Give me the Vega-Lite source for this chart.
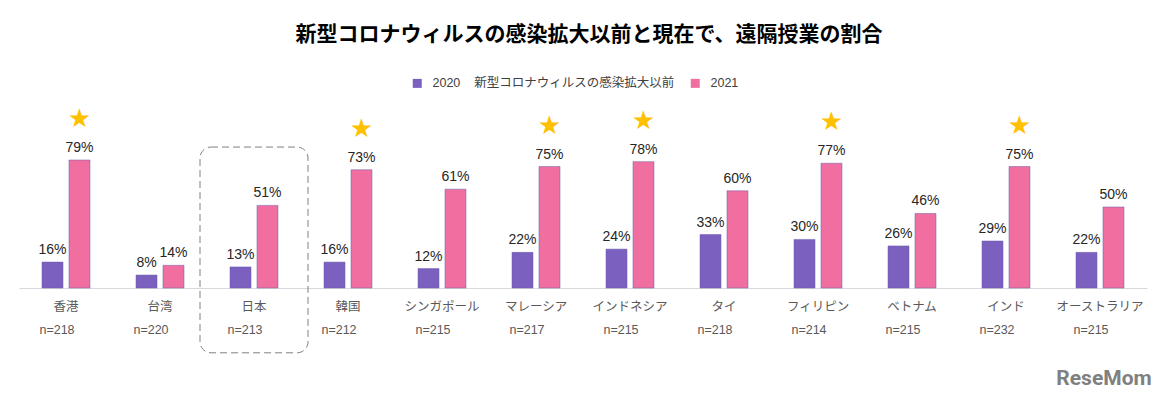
{
  "$schema": "https://vega.github.io/schema/vega-lite/v6.json",
  "width": 1128,
  "height": 162,
  "autosize": {"type": "none"},
  "padding": {"left": 19, "right": 18, "top": 126, "bottom": 111},
  "background": "white",
  "title": {
    "text": "新型コロナウィルスの感染拡大以前と現在で、遠隔授業の割合",
    "font": "Noto Sans CJK JP",
    "fontSize": 21,
    "fontWeight": "bold",
    "color": "#000000",
    "anchor": "middle",
    "frame": "group",
    "offset": 32,
    "dx": 6
  },
  "config": {
    "view": {"stroke": null},
    "font": "Liberation Sans, Noto Sans CJK JP",
    "axis": {
      "grid": false,
      "ticks": false,
      "tickSize": 0,
      "domainColor": "#d9d9d9",
      "domainWidth": 1,
      "labelPadding": 12,
      "labelFont": "Noto Sans CJK JP",
      "labelFontSize": 12.5,
      "labelColor": "#595959",
      "labelAngle": 0
    }
  },
  "datasets": {
    "bars": [
      {"country": "香港", "year": "2020", "value": 16, "star": false},
      {"country": "香港", "year": "2021", "value": 79, "star": true},
      {"country": "台湾", "year": "2020", "value": 8, "star": false},
      {"country": "台湾", "year": "2021", "value": 14, "star": false},
      {"country": "日本", "year": "2020", "value": 13, "star": false},
      {"country": "日本", "year": "2021", "value": 51, "star": false},
      {"country": "韓国", "year": "2020", "value": 16, "star": false},
      {"country": "韓国", "year": "2021", "value": 73, "star": true},
      {"country": "シンガポール", "year": "2020", "value": 12, "star": false},
      {"country": "シンガポール", "year": "2021", "value": 61, "star": false},
      {"country": "マレーシア", "year": "2020", "value": 22, "star": false},
      {"country": "マレーシア", "year": "2021", "value": 75, "star": true},
      {"country": "インドネシア", "year": "2020", "value": 24, "star": false},
      {"country": "インドネシア", "year": "2021", "value": 78, "star": true},
      {"country": "タイ", "year": "2020", "value": 33, "star": false},
      {"country": "タイ", "year": "2021", "value": 60, "star": false},
      {"country": "フィリピン", "year": "2020", "value": 30, "star": false},
      {"country": "フィリピン", "year": "2021", "value": 77, "star": true},
      {"country": "ベトナム", "year": "2020", "value": 26, "star": false},
      {"country": "ベトナム", "year": "2021", "value": 46, "star": false},
      {"country": "インド", "year": "2020", "value": 29, "star": false},
      {"country": "インド", "year": "2021", "value": 75, "star": true},
      {"country": "オーストラリア", "year": "2020", "value": 22, "star": false},
      {"country": "オーストラリア", "year": "2021", "value": 50, "star": false}
    ],
    "countries": [
      {"country": "香港", "n": "n=218", "highlight": false},
      {"country": "台湾", "n": "n=220", "highlight": false},
      {"country": "日本", "n": "n=213", "highlight": true},
      {"country": "韓国", "n": "n=212", "highlight": false},
      {"country": "シンガポール", "n": "n=215", "highlight": false},
      {"country": "マレーシア", "n": "n=217", "highlight": false},
      {"country": "インドネシア", "n": "n=215", "highlight": false},
      {"country": "タイ", "n": "n=218", "highlight": false},
      {"country": "フィリピン", "n": "n=214", "highlight": false},
      {"country": "ベトナム", "n": "n=215", "highlight": false},
      {"country": "インド", "n": "n=232", "highlight": false},
      {"country": "オーストラリア", "n": "n=215", "highlight": false}
    ]
  },
  "layer": [
    {
      "data": {"name": "bars"},
      "mark": {"type": "bar", "stroke": "#6a5aa8", "strokeWidth": 0.5},
      "encoding": {
        "x": {
          "field": "country",
          "type": "nominal",
          "sort": null,
          "scale": {
            "domain": ["香港", "台湾", "日本", "韓国", "シンガポール", "マレーシア", "インドネシア", "タイ", "フィリピン", "ベトナム", "インド", "オーストラリア"],
            "paddingInner": 0,
            "paddingOuter": 0
          },
          "axis": {"title": null}
        },
        "xOffset": {
          "field": "year",
          "type": "nominal",
          "scale": {"paddingInner": 0.222, "paddingOuter": 0.852}
        },
        "y": {
          "field": "value",
          "type": "quantitative",
          "scale": {"domain": [0, 100], "nice": false},
          "axis": null
        },
        "color": {
          "field": "year",
          "type": "nominal",
          "scale": {"domain": ["2020", "2021"], "range": ["#7C60C0", "#F06FA0"]},
          "legend": {
            "orient": "none",
            "legendX": 392,
            "legendY": -49,
            "direction": "horizontal",
            "title": null,
            "padding": 0,
            "symbolType": "square",
            "symbolSize": 81,
            "symbolStrokeWidth": 0,
            "labelOffset": 9,
            "columnPadding": 14,
            "labelFont": "Liberation Sans, Noto Sans CJK JP",
            "labelFontSize": 12.5,
            "labelColor": "#404040",
            "labelLimit": 400,
            "labelExpr": "datum.label == '2020' ? '2020\u00a0\u00a0\u00a0\u00a0新型コロナウィルスの感染拡大以前' : datum.label"
          }
        }
      }
    },
    {
      "data": {"name": "countries"},
      "transform": [{"filter": "datum.highlight"}],
      "mark": {
        "type": "bar",
        "filled": false,
        "stroke": "#808080",
        "strokeWidth": 1,
        "strokeDash": [7, 4],
        "cornerRadius": 11,
        "width": 108
      },
      "encoding": {
        "x": {"field": "country", "type": "nominal", "sort": null, "axis": {"title": null}},
        "y": {"datum": 87, "type": "quantitative", "scale": {"domain": [0, 100], "nice": false}, "axis": null},
        "y2": {"datum": -40}
      }
    },
    {
      "data": {"name": "bars"},
      "mark": {"type": "text", "baseline": "alphabetic", "dy": -8, "fontSize": 14, "color": "#262626", "font": "Liberation Sans", "text": {"expr": "datum.value + '%'"}},
      "encoding": {
        "x": {"field": "country", "type": "nominal", "sort": null, "axis": {"title": null}},
        "xOffset": {"field": "year", "type": "nominal"},
        "y": {"field": "value", "type": "quantitative", "scale": {"domain": [0, 100], "nice": false}, "axis": null},
        "detail": {"field": "year"}
      }
    },
    {
      "data": {"name": "bars"},
      "transform": [{"filter": "datum.star"}],
      "mark": {"type": "text", "text": "★", "baseline": "middle", "dy": -41, "fontSize": 26, "color": "#FFC000", "font": "DejaVu Sans"},
      "encoding": {
        "x": {"field": "country", "type": "nominal", "sort": null, "axis": {"title": null}},
        "xOffset": {"field": "year", "type": "nominal"},
        "y": {"field": "value", "type": "quantitative", "scale": {"domain": [0, 100], "nice": false}, "axis": null}
      }
    },
    {
      "data": {"name": "countries"},
      "mark": {"type": "text", "baseline": "middle", "dx": -9, "fontSize": 12.5, "color": "#595959", "font": "Liberation Sans"},
      "encoding": {
        "x": {"field": "country", "type": "nominal", "sort": null, "axis": {"title": null}},
        "y": {"datum": -26, "type": "quantitative", "scale": {"domain": [0, 100], "nice": false}, "axis": null},
        "text": {"field": "n", "type": "nominal"}
      }
    },
    {
      "data": {"values": [{"country": "オーストラリア", "logo": "ReseMom"}]},
      "mark": {"type": "text", "baseline": "middle", "dx": 4, "fontSize": 21, "fontWeight": "bold", "color": "#808080", "font": "Roboto"},
      "encoding": {
        "x": {"field": "country", "type": "nominal", "sort": null, "axis": {"title": null}},
        "y": {"datum": -56, "type": "quantitative", "scale": {"domain": [0, 100], "nice": false}, "axis": null},
        "text": {"field": "logo", "type": "nominal"}
      }
    }
  ]
}
